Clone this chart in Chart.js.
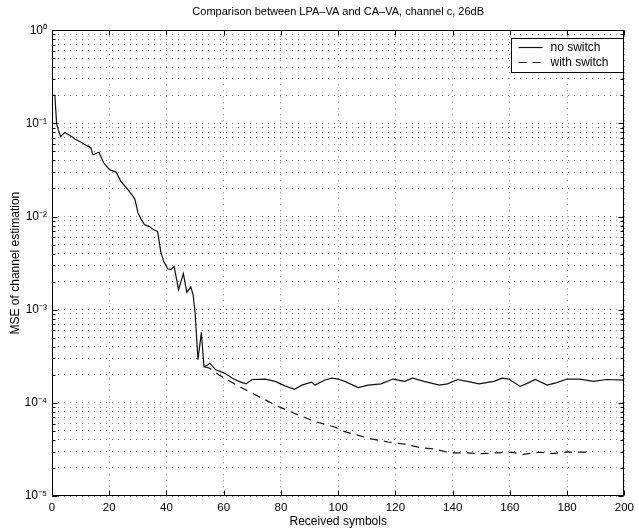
<!DOCTYPE html>
<html>
<head>
<meta charset="utf-8">
<script src="https://cdn.jsdelivr.net/npm/chart.js@4.4.0/dist/chart.umd.min.js"></script>
<style>
  html, body { margin: 0; padding: 0; background: #fff; }
</style>
</head>
<body>
<canvas id="mseChart" width="639" height="532"></canvas>
<script>
// Values (received symbols -> MSE)
const noSwitchX = [0, 1, 1.6, 2.2, 3, 4.5, 6, 8, 10, 12, 13.5, 14.3, 16.4, 18, 20, 22.4, 24, 26.5, 28, 29,
    30, 31, 32.3, 34, 35.5, 36.9, 38, 39, 40.4, 41.5, 42.7, 44.2, 45.9, 47.1, 48.5, 49.3, 50, 51, 52.2, 53.1,
    54.5, 55.1, 57.2, 60, 61.8, 63, 65.3, 67.8, 69.9, 74.5, 78, 81.4, 84.7, 87.3, 90.7, 91.9, 95.4, 97.7, 100,
    102.3, 107, 110.4, 115, 119.1, 123.2, 126, 130, 135.3, 138.2, 141.7, 145.1, 149.2, 154.4, 157.3, 159.6,
    163.6, 166.6, 168.9, 173, 176.4, 179.9, 184.5, 189.1, 193.8, 200];
const noSwitchY = [0.2, 0.2, 0.1, 0.085, 0.072, 0.08, 0.075, 0.068, 0.063, 0.058, 0.055, 0.046, 0.049, 0.038, 0.032, 0.03, 0.024, 0.0195, 0.017, 0.0152,
    0.011, 0.0095, 0.0082, 0.0078, 0.0072, 0.0069, 0.0042, 0.0033, 0.00275, 0.0027, 0.0029, 0.00164, 0.00244, 0.00154, 0.00175, 0.00145, 0.00092, 0.00029, 0.00057, 0.000245,
    0.000255, 0.000267, 0.000226, 0.00021, 0.000195, 0.000184, 0.00017, 0.00016, 0.000178, 0.00018, 0.00017, 0.000152, 0.00014, 0.000155, 0.000167, 0.000155, 0.000176, 0.000184, 0.00018,
    0.00017, 0.000146, 0.000155, 0.00016, 0.00018, 0.00017, 0.000184, 0.00017, 0.000155, 0.00016, 0.000178, 0.00017, 0.00016, 0.00017, 0.000184, 0.00018,
    0.00015, 0.000165, 0.000178, 0.000155, 0.000165, 0.00018, 0.00018, 0.00017, 0.000178, 0.000175];

const withSwitchX = [53.1, 55.1, 58.3, 65.3, 72.2, 79.2, 86.1, 91.9, 98.8, 102.3, 111.6, 117.4, 123.1, 128.9, 133.6,
    139.3, 145.1, 150.1, 155, 160.5, 164.6, 170.7, 174.7, 179.9, 186.8];
const withSwitchY = [0.000245, 0.000235, 0.0002, 0.00015, 0.000117, 0.000091, 0.000074, 0.000063, 0.000055, 0.000049, 0.000041, 0.000038, 0.000036, 0.000033, 0.000032,
    0.000029, 0.000029, 0.0000285, 0.000029, 0.0000295, 0.000028, 0.0000295, 0.0000285, 0.0000297, 0.0000295];

const seriesLabels = ['no switch', 'with switch'];
const xTicks = [0, 20, 40, 60, 80, 100, 120, 140, 160, 180, 200];
const yDecades = [1e-5, 1e-4, 1e-3, 1e-2, 1e-1, 1];
const yDecadeLabels = ['10⁻⁵', '10⁻⁴', '10⁻³', '10⁻²', '10⁻¹', '10⁰'];

// minor log grid: 1..9 x each decade
const yGrid = [];
yDecades.forEach(function (d, i) {
    if (i === yDecades.length - 1) { yGrid.push(d); return; }
    for (let m = 1; m <= 9; m++) yGrid.push(m * d);
});

const FONT = 'Liberation Sans, Arial, Helvetica, sans-serif';

function decadeIndex(v) {
    const l = Math.log10(v);
    if (Math.abs(l - Math.round(l)) > 1e-9) return -1;
    return yDecades.findIndex(function (d) { return Math.abs(Math.log10(d) - l) < 1e-9; });
}

// box, inward ticks and the boxed legend, MATLAB style
const matlabFrame = {
    id: 'matlabFrame',
    afterDraw: function (chart) {
        const ctx = chart.ctx;
        const a = chart.chartArea;
        const xs = chart.scales.x;
        const ys = chart.scales.y;
        const L = Math.round(a.left) + 0.5, R = Math.round(a.right) - 0.5;
        const T = Math.round(a.top) + 0.5, B = Math.round(a.bottom) - 0.5;
        ctx.save();
        ctx.strokeStyle = '#000';
        ctx.lineWidth = 1;
        ctx.setLineDash([]);
        ctx.strokeRect(L, T, R - L, B - T);

        ctx.beginPath();
        xTicks.forEach(function (v) {
            const px = Math.round(xs.getPixelForValue(v)) + 0.5;
            ctx.moveTo(px, B); ctx.lineTo(px, B - 5);
            ctx.moveTo(px, T); ctx.lineTo(px, T + 5);
        });
        yGrid.forEach(function (v) {
            const py = Math.round(ys.getPixelForValue(v)) + 0.5;
            const len = decadeIndex(v) >= 0 ? 5 : 3;
            ctx.moveTo(L, py); ctx.lineTo(L + len, py);
            ctx.moveTo(R, py); ctx.lineTo(R - len, py);
        });
        ctx.stroke();

        // legend
        const bx = 511.5, by = 38.5, bw = 112, bh = 34;
        ctx.fillStyle = '#fff';
        ctx.fillRect(bx, by, bw, bh);
        ctx.strokeRect(bx, by, bw, bh);
        ctx.font = '12px ' + FONT;
        ctx.textBaseline = 'middle';
        ctx.fillStyle = '#000';
        chart.data.datasets.forEach(function (ds, i) {
            const ly = by + 9 + i * 15;
            ctx.beginPath();
            ctx.setLineDash(ds.borderDash || []);
            ctx.lineWidth = ds.borderWidth;
            ctx.strokeStyle = ds.borderColor;
            ctx.moveTo(bx + 7, ly);
            ctx.lineTo(bx + 31, ly);
            ctx.stroke();
            ctx.setLineDash([]);
            ctx.fillText(ds.label, bx + 39, ly);
        });
        ctx.restore();
    }
};

document.addEventListener('DOMContentLoaded', function () {
    const ctx = document.getElementById('mseChart').getContext('2d');
    new Chart(ctx, {
        type: 'line',
        data: {
            datasets: [
                {
                    label: seriesLabels[0],
                    data: noSwitchX.map(function (x, i) { return { x: x, y: noSwitchY[i] }; }),
                    borderColor: '#111',
                    borderWidth: 1.2,
                    pointRadius: 0,
                    tension: 0,
                },
                {
                    label: seriesLabels[1],
                    data: withSwitchX.map(function (x, i) { return { x: x, y: withSwitchY[i] }; }),
                    borderColor: '#111',
                    borderWidth: 1.2,
                    borderDash: [8, 6],
                    pointRadius: 0,
                    tension: 0,
                },
            ],
        },
        options: {
            responsive: false,
            animation: false,
            layout: { padding: { left: 0, right: 11, top: 0, bottom: 0 } },
            plugins: {
                legend: { display: false },
                tooltip: { enabled: false },
                title: {
                    display: true,
                    fullSize: false, // centre over the plot box, as MATLAB does
                    text: 'Comparison between LPA–VA and CA–VA, channel c, 26dB',
                    color: '#000',
                    font: { family: FONT, size: 11, weight: 'normal' },
                    padding: { top: 5, bottom: 12 },
                },
            },
            scales: {
                x: {
                    type: 'linear',
                    min: 0,
                    max: 200,
                    afterFit: function (s) { s.height = 36; },
                    ticks: { stepSize: 20, color: '#000', padding: 5, font: { family: FONT, size: 11.5 } },
                    grid: { color: 'rgba(0,0,0,0.45)', lineWidth: 1, drawTicks: false },
                    border: { display: false, dash: [1, 5] },
                    title: {
                        display: true,
                        text: 'Received symbols',
                        color: '#000',
                        font: { family: FONT, size: 12 },
                        padding: { top: 0, bottom: 3 },
                    },
                },
                y: {
                    type: 'logarithmic',
                    min: 1e-5,
                    max: 1,
                    afterFit: function (s) { s.width = 52; },
                    afterBuildTicks: function (s) {
                        s.ticks = yGrid.map(function (v) { return { value: v }; });
                    },
                    ticks: {
                        autoSkip: false,
                        color: '#000',
                        padding: 5,
                        font: { family: FONT, size: 12 },
                        callback: function (v) {
                            const i = decadeIndex(v);
                            return i >= 0 ? yDecadeLabels[i] : '';
                        },
                    },
                    grid: { color: 'rgba(0,0,0,0.45)', lineWidth: 1, drawTicks: false },
                    border: { display: false, dash: [1, 5] },
                    title: {
                        display: true,
                        text: 'MSE of channel estimation',
                        color: '#000',
                        font: { family: FONT, size: 12 },
                        padding: { top: 8, bottom: 0 },
                    },
                },
            },
        },
        plugins: [matlabFrame],
    });
});
</script>
</body>
</html>
